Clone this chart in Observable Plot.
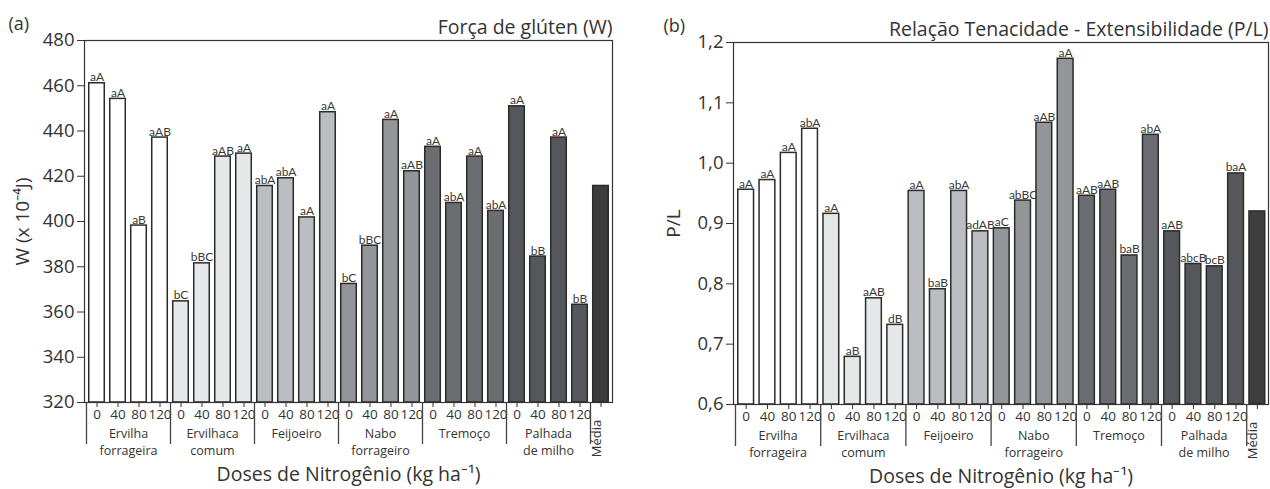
<!DOCTYPE html>
<html><head><meta charset="utf-8">
<script src="https://cdn.jsdelivr.net/npm/d3@7"></script>
<script src="https://cdn.jsdelivr.net/npm/@observablehq/plot@0.6"></script>
<style>
body{margin:0;background:#fff;}
#wrap{display:flex;width:1270px;height:489px;overflow:hidden;}
#wrap svg{display:block;flex:none;}
#wrap svg g.letters text{letter-spacing:-0.7px;}
</style></head><body><div id="wrap"></div>
<script>
// ---------- data ----------
const groups = ["Ervilha\nforrageira", "Ervilhaca\ncomum", "Feijoeiro", "Nabo\nforrageiro", "Tremoço", "Palhada\nde milho"];
const doses = ["0", "40", "80", "120"];
const mediaLabel = "Média";

// (a) Força de glúten (W)
const wValues = [461.1, 454.2, 398.2, 437.1,
                 364.7, 381.5, 428.7, 430.0,
                 415.7, 419.1, 401.8, 448.3,
                 372.4, 389.3, 444.9, 422.2,
                 433.0, 408.2, 428.7, 404.7,
                 450.9, 384.5, 437.1, 363.2];
const wMedia = 415.7;
const wLetters = ["aA", "aA", "aB", "aAB",
                  "bC", "bBC", "aAB", "aA",
                  "abA", "abA", "aA", "aA",
                  "bC", "bBC", "aA", "aAB",
                  "aA", "abA", "aA", "abA",
                  "aA", "bB", "aA", "bB"];
const wTicks = [320, 340, 360, 380, 400, 420, 440, 460, 480];

// (b) Relação P/L
const plValues = [0.956, 0.972, 1.017, 1.057,
                  0.916, 0.679, 0.776, 0.732,
                  0.954, 0.791, 0.954, 0.887,
                  0.892, 0.938, 1.067, 1.173,
                  0.946, 0.956, 0.847, 1.047,
                  0.887, 0.833, 0.829, 0.983];
const plMedia = 0.920;
const plLetters = ["aA", "aA", "aA", "abA",
                   "aA", "aB", "aAB", "dB",
                   "aA", "baB", "abA", "adAB",
                   "aC", "abBC", "aAB", "aA",
                   "aAB", "aAB", "baB", "abA",
                   "aAB", "abcB", "bcB", "baA"];
const plTicks = [0.6, 0.7, 0.8, 0.9, 1.0, 1.1, 1.2];

// styles
const groupColors = ["#ffffff", "#e6e7e8", "#bcbdc0", "#939598", "#6b6d70", "#55575a"];
const mediaColor = "#3d3d3e";
const ink = "#333333";
const font = "Open Sans";
const letterFont = "Lato, 'Open Sans'";

// ---------- build ----------
function buildRows(values, media, letters) {
  const rows = [];
  groups.forEach((g, gi) => doses.forEach((d, di) => {
    const k = gi * doses.length + di;
    rows.push({idx: k, group: g, dose: d, value: values[k], letter: letters[k], color: groupColors[gi]});
  }));
  rows.push({idx: rows.length, group: mediaLabel, dose: "", value: media, letter: "", color: mediaColor});
  return rows;
}

function chart(cfg) {
  const rows = buildRows(cfg.values, cfg.media, cfg.letters);
  const n = rows.length;
  const W = 635, H = 489;
  const innerH = H - cfg.marginTop - cfg.marginBottom;
  const yMin = cfg.ticks[0], yMax = cfg.ticks[cfg.ticks.length - 1];
  const tickLabel = new Map(rows.map(d => [d.idx + 0.5, d.dose]));
  const groupRows = groups.map((g, gi) => ({name: g, center: gi * doses.length + doses.length / 2}));
  const seps = d3.range(0, groups.length + 1).map(i => i * doses.length);
  const svg = Plot.plot({
    width: W, height: H,
    marginLeft: cfg.marginLeft, marginRight: cfg.marginRight,
    marginTop: cfg.marginTop, marginBottom: cfg.marginBottom,
    style: {fontFamily: font, color: ink, background: "#fff", overflow: "visible"},
    x: {type: "linear", domain: [0, n], insetLeft: cfg.insetLeft, insetRight: cfg.insetRight},
    y: {domain: [yMin, yMax]},
    color: {type: "identity"},
    marks: [
      Plot.rectY(rows, {x1: d => d.idx + 0.13, x2: d => d.idx + 0.87, y1: yMin, y2: "value",
        fill: "color", stroke: "#2b2b2b", strokeWidth: 1.5}),
      Plot.text(rows.filter(d => d.letter), {x: d => d.idx + 0.5, y: "value", text: "letter",
        lineAnchor: "bottom", dy: -2, fontSize: 12, fontFamily: letterFont, fill: "#3a3a3a",
        ariaLabel: "letters"}),
      Plot.frame({stroke: ink, strokeWidth: 1.2}),
      Plot.axisY({ticks: cfg.ticks, tickFormat: cfg.yFormat, tickSize: 7, tickPadding: 3,
        fontSize: 18.5, label: null, stroke: ink}),
      Plot.axisX({ticks: rows.map(d => d.idx + 0.5), tickFormat: v => tickLabel.get(v),
        tickSize: 5, tickPadding: 2, fontSize: 13.5, label: null, stroke: ink}),
      Plot.ruleX(seps, {x: d => d, insetTop: innerH, insetBottom: -42, stroke: "#444", strokeWidth: 1.3}),
      Plot.text(groupRows, {x: "center", text: "name", frameAnchor: "bottom", lineAnchor: "top",
        dy: 24, fontSize: 12.5, lineHeight: 1.32, fill: ink}),
      Plot.text([mediaLabel], {x: [n - 0.5], text: d => d, frameAnchor: "bottom", rotate: -90,
        textAnchor: "middle", dy: 36, fontSize: 13, fill: ink}),
      Plot.text([cfg.title], {frameAnchor: "top-right", textAnchor: "end", lineAnchor: "bottom",
        dy: -7, fontSize: 19.5, fill: ink}),
      Plot.text([cfg.panel], {frameAnchor: "top-left", textAnchor: "start", lineAnchor: "bottom",
        dx: cfg.panelDx, dy: -11, fontSize: 18, fill: ink}),
      Plot.text([cfg.yLabel], {frameAnchor: "left", rotate: -90, textAnchor: "middle",
        dx: cfg.yLabelDx, fontSize: 19, fill: ink}),
      Plot.text(["Doses de Nitrogênio (kg ha⁻¹)"], {frameAnchor: "bottom", textAnchor: "middle",
        dy: 78, fontSize: 19.5, fill: ink})
    ]
  });
  d3.select(svg).selectAll('g[aria-label="letters"]').classed("letters", true);
  return svg;
}

const fmtComma = d => d.toFixed(1).replace(".", ",");
const wrap = document.getElementById("wrap");
wrap.appendChild(chart({
  values: wValues, media: wMedia, letters: wLetters, ticks: wTicks, yFormat: d => String(d),
  title: "Força de glúten (W)", panel: "(a)", yLabel: "W (x 10⁻⁴J)",
  marginLeft: 84, marginRight: 23, marginTop: 40, marginBottom: 87, insetLeft: 2, insetRight: 1,
  panelDx: -76, yLabelDx: -62
}));
wrap.appendChild(chart({
  values: plValues, media: plMedia, letters: plLetters, ticks: plTicks, yFormat: fmtComma,
  title: "Relação Tenacidade - Extensibilidade (P/L)", panel: "(b)", yLabel: "P/L",
  marginLeft: 98, marginRight: 2, marginTop: 42, marginBottom: 85, insetLeft: 2, insetRight: 0.5,
  panelDx: -70, yLabelDx: -60
}));
</script></body></html>
